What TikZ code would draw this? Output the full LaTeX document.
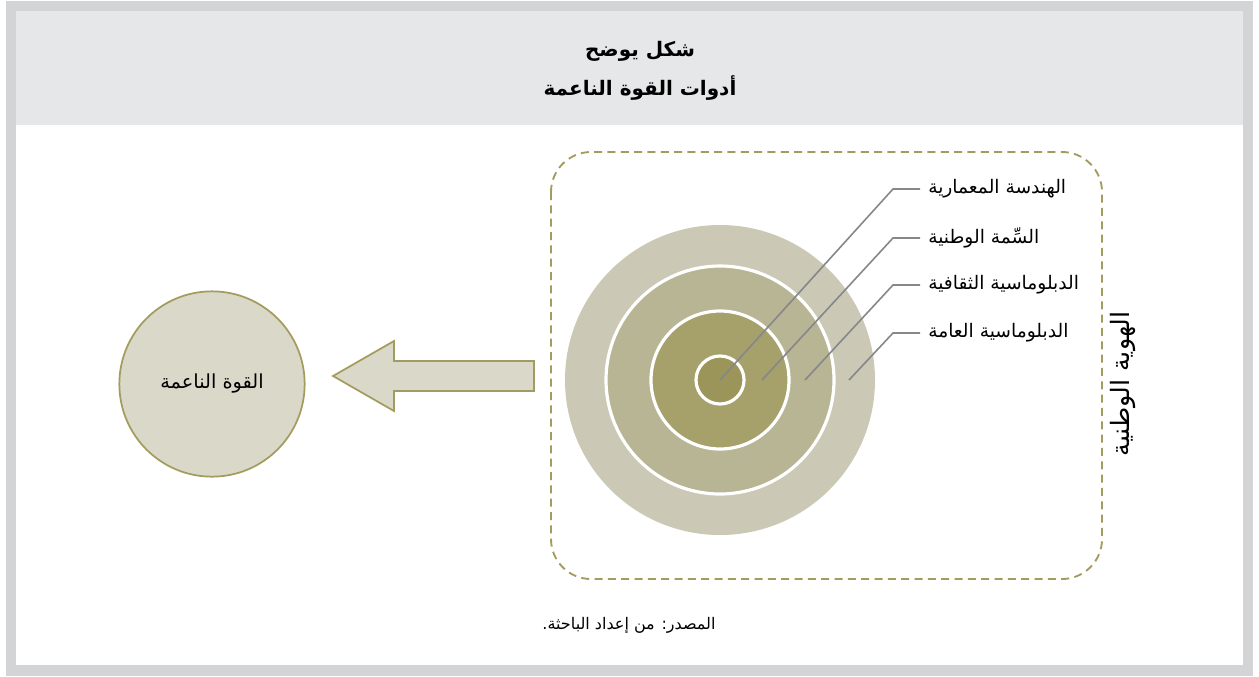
\documentclass[tikz,border=0pt]{standalone}
\usepackage{fontspec}
\TeXXeTstate=1
\newfontfamily\arabicfont[Script=Arabic]{DejaVu Sans}
\usetikzlibrary{calc}
\definecolor{framegray}{HTML}{D3D4D6}
\definecolor{headgray}{HTML}{E6E7E8}
\definecolor{olive}{HTML}{A39C5E}
\definecolor{ringA}{HTML}{CBC9B5}
\definecolor{ringB}{HTML}{B8B595}
\definecolor{ringC}{HTML}{A6A06B}
\definecolor{ringD}{HTML}{9C955A}
\definecolor{pale}{HTML}{D9D8C9}
\definecolor{leader}{HTML}{85878A}
\begin{document}
\begin{tikzpicture}[x=0.75pt,y=-0.75pt,
  lbl/.style={font=\arabicfont\fontsize{14}{16}\selectfont, anchor=west, inner xsep=6pt, inner ysep=0pt},
  leaderline/.style={draw=leader, line width=1.2pt},
  ring/.style={draw=white, line width=2.4pt}]
\useasboundingbox (0,0) rectangle (1259,676);
\fill[framegray] (6,1) rectangle (1253,676);
\fill[white] (16,11) rectangle (1243,665);
\fill[headgray] (16,11) rectangle (1243,125);
\node[font=\arabicfont\bfseries\fontsize{15}{17}\selectfont] (t1) at (640,51) {\beginR شكل يوضح\endR};
\node[font=\arabicfont\bfseries\fontsize{15}{17}\selectfont] (t2) at (640,88) {\beginR أدوات القوة الناعمة\endR};
% dashed frame
\draw[olive, line width=1.4pt, dash pattern=on 6pt off 4pt, rounded corners=30pt] (551,152) rectangle (1102,579);
% target rings
\fill[ringA] (720,380) circle[radius=155];
\filldraw[ring, fill=ringB] (720,380) circle[radius=114];
\filldraw[ring, fill=ringC] (720,380) circle[radius=69];
\filldraw[ring, fill=ringD] (720,380) circle[radius=24];
\coordinate (c1) at (720,380);
\coordinate (c2) at (762,380);
\coordinate (c3) at (805,380);
\coordinate (c4) at (849,380);
\coordinate (e1) at (893,189);
\coordinate (e2) at (893,238);
\coordinate (e3) at (893,285);
\coordinate (e4) at (893,333);
\node[lbl] (l1) at (920,189) {\beginR الهندسة المعمارية\endR};
\node[lbl] (l2) at (920,238) {\beginR السِّمة الوطنية\endR};
\node[lbl] (l3) at (920,285) {\beginR الدبلوماسية الثقافية\endR};
\node[lbl] (l4) at (920,333) {\beginR الدبلوماسية العامة\endR};
\draw[leaderline] (c1) -- (e1) -- (l1.west);
\draw[leaderline] (c2) -- (e2) -- (l2.west);
\draw[leaderline] (c3) -- (e3) -- (l3.west);
\draw[leaderline] (c4) -- (e4) -- (l4.west);
\node[rotate=90, font=\arabicfont\fontsize{19}{21}\selectfont] (vid) at (1123,384) {\beginR الهوية الوطنية\endR};
% left circle
\node[circle, draw=olive, fill=pale, line width=1.3pt, minimum size=139pt, inner sep=0pt, font=\arabicfont\fontsize{14.5}{16}\selectfont] (soft) at (212,384) {\beginR القوة الناعمة\endR};
% block arrow
\filldraw[draw=olive, fill=pale, line width=1.3pt, line join=miter]
  (534,361) -- (394,361) -- (394,341) -- (333,376) -- (394,411) -- (394,391) -- (534,391) -- cycle;
\node[font=\arabicfont\fontsize{12}{14}\selectfont] (src) at (629,625) {\beginR المصدر: من إعداد الباحثة.\endR};
\end{tikzpicture}
\end{document}
